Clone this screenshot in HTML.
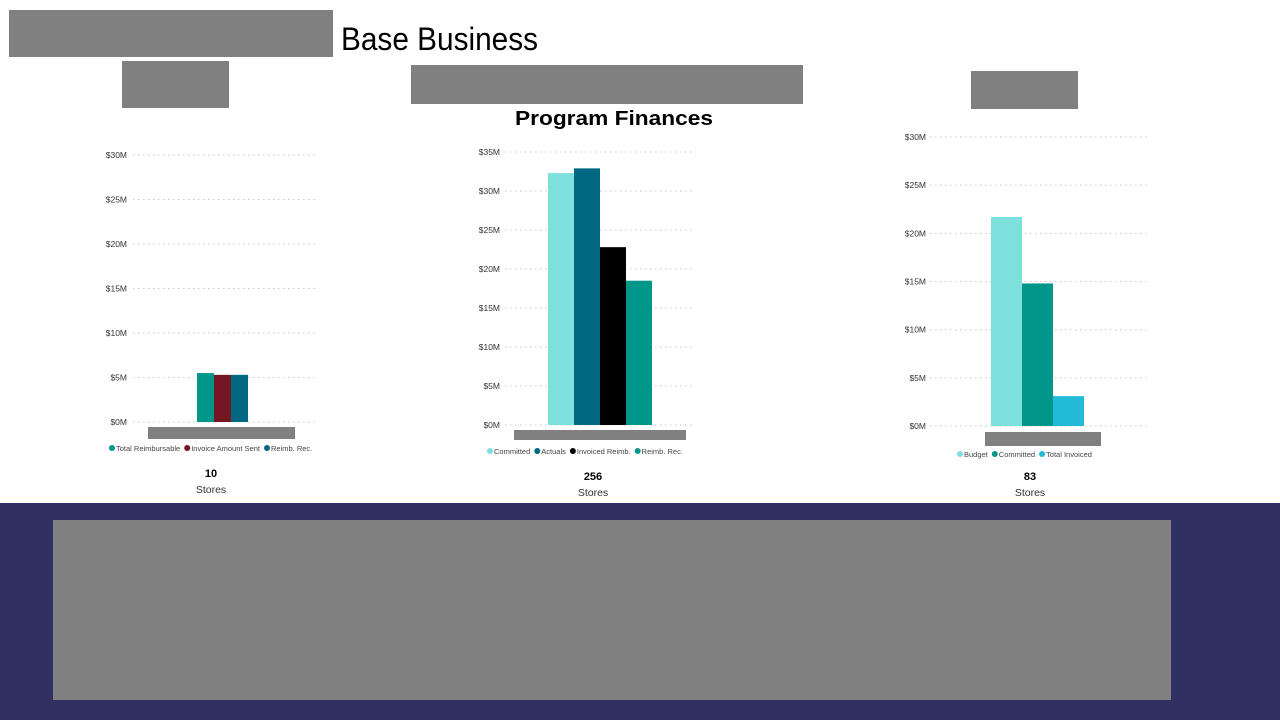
<!DOCTYPE html>
<html><head><meta charset="utf-8">
<style>
html,body{margin:0;padding:0;background:#fff;width:1280px;height:720px;overflow:hidden;font-family:"Liberation Sans",sans-serif;}
.box{position:absolute;background:#808080;}
</style></head>
<body>
<div class="box" style="left:9px;top:10px;width:324px;height:47px"></div>
<div class="box" style="left:122px;top:61px;width:107px;height:47px"></div>
<div class="box" style="left:411px;top:65px;width:392px;height:39px"></div>
<div class="box" style="left:971px;top:71px;width:107px;height:38px"></div>
<div style="position:absolute;left:0;top:503px;width:1280px;height:217px;background:#313063"></div>
<div class="box" style="left:53px;top:520px;width:1118px;height:180px"></div>
<svg id="svg" width="1280" height="720" style="position:absolute;left:0;top:0">
<text x="341" y="50" font-size="32" textLength="197" lengthAdjust="spacingAndGlyphs" font-family="Liberation Sans, sans-serif">Base Business</text>
<text x="614" y="125" text-anchor="middle" font-size="20" font-weight="bold" textLength="198" lengthAdjust="spacingAndGlyphs">Program Finances</text>
</svg>
<script>
const c1Series = ["Total Reimbursable","Invoice Amount Sent","Reimb. Rec."];
const c1Values = [5.5, 5.3, 5.3];
const c1Ticks = [0,5,10,15,20,25,30];
const c1Count = "10";
const c2Series = ["Committed","Actuals","Invoiced Reimb.","Reimb. Rec."];
const c2Values = [32.3, 32.9, 22.8, 18.5];
const c2Ticks = [0,5,10,15,20,25,30,35];
const c2Count = "256";
const c3Series = ["Budget","Committed","Total Invoiced"];
const c3Values = [21.7, 14.8, 3.1];
const c3Ticks = [0,5,10,15,20,25,30];
const c3Count = "83";

const NS="http://www.w3.org/2000/svg";
const svg=document.getElementById('svg');
function mk(tag,attrs,parent){const e=document.createElementNS(NS,tag);for(const k in attrs)e.setAttribute(k,attrs[k]);(parent||svg).appendChild(e);return e;}

function chart(cfg){
  const g=mk('g',{});
  
  
  const max=cfg.ticks[cfg.ticks.length-1];
  const y=v=>cfg.y0-(v/max)*(cfg.y0-cfg.yTop);
  cfg.ticks.forEach(t=>{
    const l=mk('line',{x1:cfg.gx0,x2:cfg.gx1,y1:y(t),y2:y(t),stroke:'#c8c8c8','stroke-dasharray':'1.5,3.5','stroke-width':1},g);
    
    
    const tx=mk('text',{x:cfg.labelX,y:y(t)+3,'text-anchor':'end','font-size':8.5,fill:'#333'},g);
    tx.textContent='$'+t+'M';
    
    
  });
  cfg.values.forEach((v,i)=>{
    const r=mk('rect',{x:cfg.bx+i*cfg.bw,y:y(v),width:cfg.bw,height:cfg.y0-y(v),fill:cfg.colors[i]},g);
    
    
  });
  const gr=mk('rect',{x:cfg.gray[0],y:cfg.gray[1],width:cfg.gray[2],height:cfg.gray[3],fill:'#808080'},g);
  
  
  let lx=cfg.legX;
  cfg.series.forEach((s,i)=>{
    const c=mk('circle',{cx:lx+3,cy:cfg.legY-3,r:3,fill:cfg.colors[i]},g);
    
    
    const t=mk('text',{x:lx+7,y:cfg.legY,'font-size':7.5,fill:'#444'},g);
    t.textContent=s;
    
    
    lx+=7+t.getComputedTextLength()+4;
  });
  const n=mk('text',{x:cfg.cx,y:cfg.countY,'text-anchor':'middle','font-size':11,'font-weight':'bold'},g);
  n.textContent=cfg.count;
  
  
  const st=mk('text',{x:cfg.cx,y:cfg.countY+16,'text-anchor':'middle','font-size':10.5,fill:'#333'},g);
  st.textContent='Stores';
  
  
}
chart({name:'left-chart',series:c1Series,values:c1Values,ticks:c1Ticks,count:c1Count,
  y0:422,yTop:155,gx0:133,gx1:316,labelX:127,bx:197,bw:17,colors:['#01968A','#751623','#006880'],
  gray:[148,427,147,12],legX:109,legY:451,cx:211,countY:477});
chart({name:'program-finances-chart',series:c2Series,values:c2Values,ticks:c2Ticks,count:c2Count,
  y0:425,yTop:152,gx0:505,gx1:692,labelX:500,bx:548,bw:26,colors:['#7DE0DD','#006880','#000000','#01968A'],
  gray:[514,430,172,10],legX:487,legY:454,cx:593,countY:480});
chart({name:'right-chart',series:c3Series,values:c3Values,ticks:c3Ticks,count:c3Count,
  y0:426,yTop:137,gx0:930,gx1:1147,labelX:926,bx:991,bw:31,colors:['#7DE0DD','#01968A','#22BAD6'],
  gray:[985,432,116,14],legX:957,legY:457,cx:1030,countY:480});
</script>
</body></html>
